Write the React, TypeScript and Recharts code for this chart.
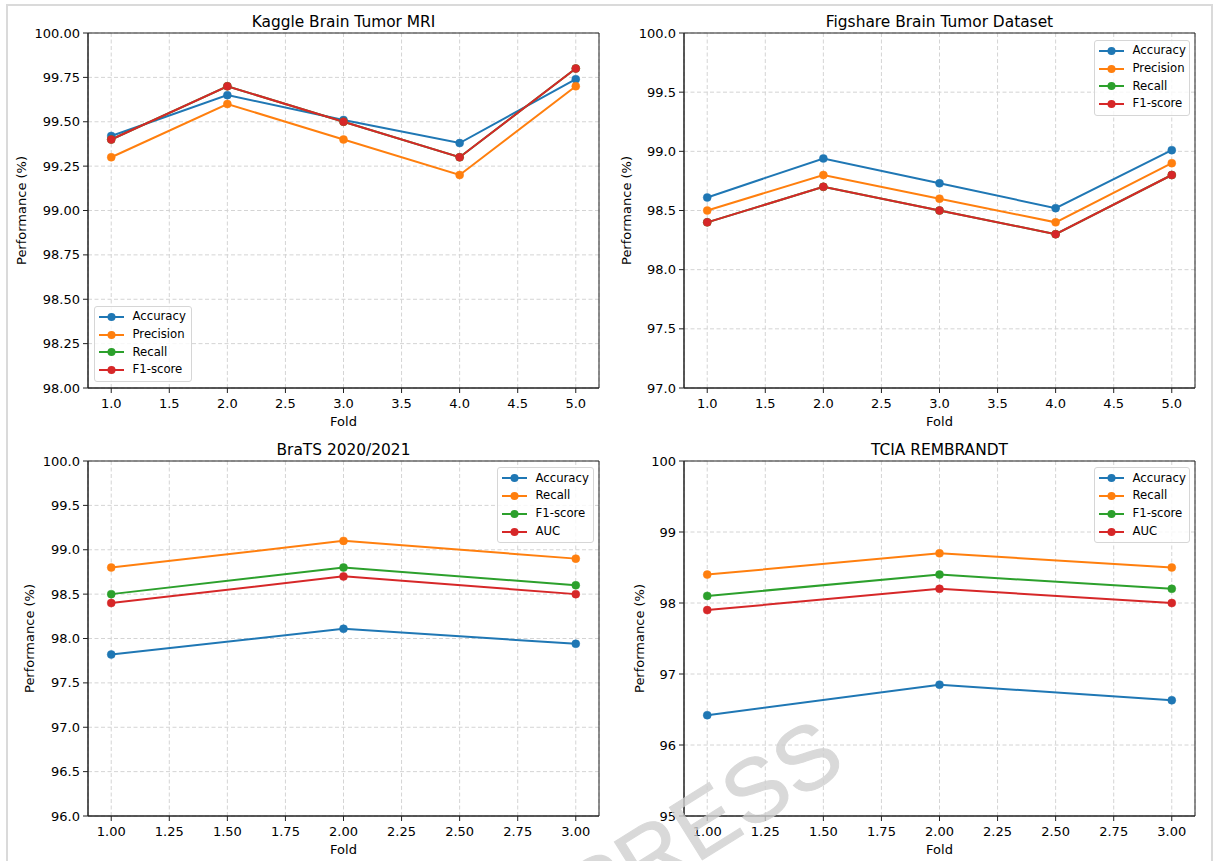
import React from 'react';
import { LineChart, Line, XAxis, YAxis, CartesianGrid, Legend, ReferenceArea } from 'recharts';

const FONT = '"DejaVu Sans", Verdana, sans-serif';

// folds
const folds5 = [1, 2, 3, 4, 5];
const folds3 = [1, 2, 3];

// Kaggle Brain Tumor MRI
const kaggleAccuracy = [99.42, 99.65, 99.51, 99.38, 99.74];
const kagglePrecision = [99.3, 99.6, 99.4, 99.2, 99.7];
const kaggleRecall = [99.4, 99.7, 99.5, 99.3, 99.8];
const kaggleF1 = [99.4, 99.7, 99.5, 99.3, 99.8];

// Figshare Brain Tumor Dataset
const figAccuracy = [98.61, 98.94, 98.73, 98.52, 99.01];
const figPrecision = [98.5, 98.8, 98.6, 98.4, 98.9];
const figRecall = [98.4, 98.7, 98.5, 98.3, 98.8];
const figF1 = [98.4, 98.7, 98.5, 98.3, 98.8];

// BraTS 2020/2021
const bratsAccuracy = [97.82, 98.11, 97.94];
const bratsRecall = [98.8, 99.1, 98.9];
const bratsF1 = [98.5, 98.8, 98.6];
const bratsAUC = [98.4, 98.7, 98.5];

// TCIA REMBRANDT
const tciaAccuracy = [96.42, 96.85, 96.63];
const tciaRecall = [98.4, 98.7, 98.5];
const tciaF1 = [98.1, 98.4, 98.2];
const tciaAUC = [97.9, 98.2, 98.0];

// tick values
const xTicks5 = [1, 1.5, 2, 2.5, 3, 3.5, 4, 4.5, 5];
const xTicks3 = [1, 1.25, 1.5, 1.75, 2, 2.25, 2.5, 2.75, 3];
const yTicksKaggle = [98, 98.25, 98.5, 98.75, 99, 99.25, 99.5, 99.75, 100];
const yTicksFig = [97, 97.5, 98, 98.5, 99, 99.5, 100];
const yTicksBrats = [96, 96.5, 97, 97.5, 98, 98.5, 99, 99.5, 100];
const yTicksTcia = [95, 96, 97, 98, 99, 100];

const BLUE = '#1f77b4';
const ORANGE = '#ff7f0e';
const GREEN = '#2ca02c';
const RED = '#d62728';

const rows = (folds: number[], cols: Record<string, number[]>) =>
  folds.map((fold, i) => {
    const r: any = { fold };
    Object.keys(cols).forEach((k) => (r[k] = cols[k][i]));
    return r;
  });

const panels = [
  {
    title: 'Kaggle Brain Tumor MRI',
    left: 0,
    top: 0,
    data: rows(folds5, { accuracy: kaggleAccuracy, precision: kagglePrecision, recall: kaggleRecall, f1: kaggleF1 }),
    series: [
      { key: 'accuracy', name: 'Accuracy', color: BLUE },
      { key: 'precision', name: 'Precision', color: ORANGE },
      { key: 'recall', name: 'Recall', color: GREEN },
      { key: 'f1', name: 'F1-score', color: RED },
    ],
    xDomain: [0.8, 5.2],
    xTicks: xTicks5,
    xDec: 1,
    yDomain: [98, 100],
    yTicks: yTicksKaggle,
    yDec: 2,
    yLabelOffset: 21.5,
    legend: { left: 93.5, top: 305.5, width: 98 },
  },
  {
    title: 'Figshare Brain Tumor Dataset',
    left: 596,
    top: 0,
    data: rows(folds5, { accuracy: figAccuracy, precision: figPrecision, recall: figRecall, f1: figF1 }),
    series: [
      { key: 'accuracy', name: 'Accuracy', color: BLUE },
      { key: 'precision', name: 'Precision', color: ORANGE },
      { key: 'recall', name: 'Recall', color: GREEN },
      { key: 'f1', name: 'F1-score', color: RED },
    ],
    xDomain: [0.8, 5.2],
    xTicks: xTicks5,
    xDec: 1,
    yDomain: [97, 100],
    yTicks: yTicksFig,
    yDec: 1,
    yLabelOffset: 30.5,
    legend: { left: 497.5, top: 39.5, width: 96.5 },
  },
  {
    title: 'BraTS 2020/2021',
    left: 0,
    top: 427.5,
    data: rows(folds3, { accuracy: bratsAccuracy, recall: bratsRecall, f1: bratsF1, auc: bratsAUC }),
    series: [
      { key: 'accuracy', name: 'Accuracy', color: BLUE },
      { key: 'recall', name: 'Recall', color: ORANGE },
      { key: 'f1', name: 'F1-score', color: GREEN },
      { key: 'auc', name: 'AUC', color: RED },
    ],
    xDomain: [0.9, 3.1],
    xTicks: xTicks3,
    xDec: 2,
    yDomain: [96, 100],
    yTicks: yTicksBrats,
    yDec: 1,
    yLabelOffset: 29.5,
    legend: { left: 496.5, top: 39.5, width: 97 },
  },
  {
    title: 'TCIA REMBRANDT',
    left: 596,
    top: 427.5,
    data: rows(folds3, { accuracy: tciaAccuracy, recall: tciaRecall, f1: tciaF1, auc: tciaAUC }),
    series: [
      { key: 'accuracy', name: 'Accuracy', color: BLUE },
      { key: 'recall', name: 'Recall', color: ORANGE },
      { key: 'f1', name: 'F1-score', color: GREEN },
      { key: 'auc', name: 'AUC', color: RED },
    ],
    xDomain: [0.9, 3.1],
    xTicks: xTicks3,
    xDec: 2,
    yDomain: [95, 100],
    yTicks: yTicksTcia,
    yDec: 0,
    yLabelOffset: 43.5,
    legend: { left: 497.5, top: 39.5, width: 96.5 },
  },
];

// matplotlib-like legend box, entries kept in plotting order
const LegendBox = ({ series, width }: any) => (
  <div
    style={{
      width,
      boxSizing: 'border-box',
      border: '1px solid #d6d6d6',
      borderRadius: 3,
      background: 'rgba(255,255,255,0.8)',
      padding: '1.5px 0 1.5px 4px',
      fontFamily: FONT,
      fontSize: 11.7,
      color: '#000',
    }}
  >
    {series.map((s: any) => (
      <div key={s.key} style={{ display: 'flex', alignItems: 'center', height: 17.8 }}>
        <svg width={25} height={10} style={{ display: 'block' }}>
          <line x1={0} y1={5} x2={25} y2={5} stroke={s.color} strokeWidth={2} />
          <circle cx={12.5} cy={5} r={4} fill={s.color} />
        </svg>
        <span style={{ marginLeft: 9, whiteSpace: 'nowrap', lineHeight: '17.8px' }}>{s.name}</span>
      </div>
    ))}
  </div>
);

const Panel = ({ p }: { p: any }) => (
  <div style={{ position: 'absolute', left: p.left, top: p.top }}>
    <LineChart
      width={608}
      height={430}
      data={p.data}
      margin={{ top: 33, right: 9, bottom: 2, left: 0 }}
      style={{ fontFamily: FONT }}
    >
      <CartesianGrid stroke="#d4d4d4" strokeDasharray="4 2.5" />
      <XAxis
        type="number"
        dataKey="fold"
        domain={p.xDomain}
        ticks={p.xTicks}
        interval={0}
        allowDataOverflow
        tickFormatter={(v: number) => v.toFixed(p.xDec)}
        height={40}
        tickSize={5}
        tickMargin={5.5}
        stroke="#222"
        tick={{ fill: '#000', fontSize: 13 }}
        label={{ value: 'Fold', position: 'insideBottom', offset: 2, fill: '#000', fontSize: 13 }}
      />
      <YAxis
        type="number"
        domain={p.yDomain}
        ticks={p.yTicks}
        interval={0}
        allowDataOverflow
        tickFormatter={(v: number) => v.toFixed(p.yDec)}
        width={88}
        tickSize={5}
        tickMargin={3}
        stroke="#222"
        tick={{ fill: '#000', fontSize: 13 }}
        label={{
          value: 'Performance (%)',
          angle: -90,
          position: 'insideLeft',
          offset: p.yLabelOffset,
          fill: '#000',
          fontSize: 13,
          style: { textAnchor: 'middle' },
        }}
      />
      {p.series.map((s: any) => (
        <Line
          key={s.key}
          type="linear"
          dataKey={s.key}
          name={s.name}
          stroke={s.color}
          strokeWidth={2}
          dot={{ r: 4, fill: s.color, stroke: s.color, strokeWidth: 0.5 }}
          activeDot={false}
          isAnimationActive={false}
        />
      ))}
      <ReferenceArea
        x1={p.xDomain[0]}
        x2={p.xDomain[1]}
        y1={p.yDomain[0]}
        y2={p.yDomain[1]}
        fill="none"
        fillOpacity={0}
        stroke="#222"
        strokeWidth={1}
        ifOverflow="visible"
        label={{ value: p.title, position: 'top', offset: 6.5, fill: '#000', fontSize: 15.4 }}
      />
      <Legend
        layout="vertical"
        align="center"
        verticalAlign="middle"
        wrapperStyle={{ left: p.legend.left, top: p.legend.top, width: p.legend.width, height: 'auto' }}
        content={() => <LegendBox series={p.series} width={p.legend.width} />}
      />
    </LineChart>
  </div>
);

export default function App() {
  return (
    <div
      style={{
        position: 'absolute',
        left: 0,
        top: 0,
        width: 1217,
        height: 861,
        overflow: 'hidden',
        background: '#fff',
        fontFamily: FONT,
      }}
    >
      <div
        style={{
          position: 'absolute',
          left: 6,
          top: 4,
          width: 1207,
          height: 900,
          boxSizing: 'border-box',
          border: '2px solid #dadada',
        }}
      />
      {panels.map((p) => (
        <Panel key={p.title} p={p} />
      ))}
      <svg
        width={1217}
        height={861}
        style={{ position: 'absolute', left: 0, top: 0, pointerEvents: 'none' }}
      >
        <g opacity={0.8}>
          <text
            x={590}
            y={930}
            transform="rotate(-32 590 930)"
            fontFamily='"Liberation Sans", Arial, sans-serif'
            fontSize={90}
            fill="#d0d0d0"
            stroke="#d0d0d0"
            strokeWidth={1}
          >
            PRESS
          </text>
        </g>
      </svg>
    </div>
  );
}
